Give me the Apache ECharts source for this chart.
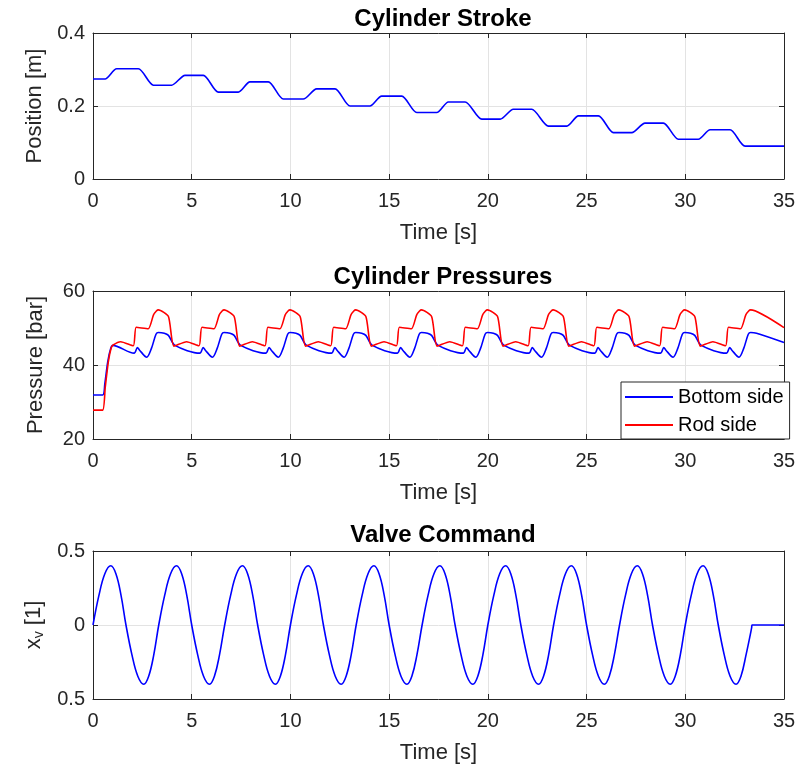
<!DOCTYPE html>
<html>
<head>
<meta charset="utf-8">
<script src="https://cdn.jsdelivr.net/npm/echarts@6/dist/echarts.min.js"></script>
<style>html,body{margin:0;padding:0;background:#fff}#c{width:799px;height:776px}</style>
</head>
<body>
<div id="c"></div>
<script>
// ---- Data ----
const titles = ['Cylinder Stroke', 'Cylinder Pressures', 'Valve Command'];
const xTicks = [0, 5, 10, 15, 20, 25, 30, 35];
const seriesNames = ['Bottom side', 'Rod side'];

const strokeT = [0, 0.61, 1.2, 2.3, 3.06, 3.98, 4.66, 5.59, 6.35, 7.36, 7.95, 8.88, 9.64, 10.65, 11.33, 12.26, 13.02, 14.03, 14.62, 15.64, 16.4, 17.41, 18.0, 18.85, 19.69, 20.62, 21.29, 22.22, 23.07, 24.0, 24.59, 25.6, 26.36, 27.29, 27.96, 28.89, 29.65, 30.66, 31.26, 32.27, 33.03, 35];
const strokeX = [0.274, 0.274, 0.302, 0.302, 0.257, 0.257, 0.284, 0.284, 0.238, 0.238, 0.266, 0.266, 0.219, 0.219, 0.247, 0.247, 0.2, 0.2, 0.227, 0.227, 0.182, 0.182, 0.211, 0.211, 0.164, 0.164, 0.191, 0.191, 0.145, 0.145, 0.173, 0.173, 0.127, 0.127, 0.153, 0.153, 0.109, 0.109, 0.135, 0.135, 0.09, 0.09];

const bottomT = [0, 0.49, 0.6, 0.75, 0.9, 1.0,
  2.08, 2.25, 2.36, 2.72, 2.96, 3.19, 3.31, 3.61, 3.82, 4.15,
  5.41, 5.58, 5.69, 6.05, 6.29, 6.52, 6.64, 6.94, 7.15, 7.48,
  8.75, 8.92, 9.03, 9.39, 9.63, 9.86, 9.98, 10.28, 10.49, 10.82,
  12.08, 12.25, 12.36, 12.72, 12.96, 13.19, 13.31, 13.61, 13.82, 14.15,
  15.41, 15.58, 15.69, 16.05, 16.29, 16.52, 16.64, 16.94, 17.15, 17.48,
  18.75, 18.92, 19.03, 19.39, 19.63, 19.86, 19.98, 20.28, 20.49, 20.82,
  22.08, 22.25, 22.36, 22.72, 22.96, 23.19, 23.31, 23.61, 23.82, 24.15,
  25.41, 25.58, 25.69, 26.05, 26.29, 26.52, 26.64, 26.94, 27.15, 27.48,
  28.74, 28.91, 29.02, 29.38, 29.62, 29.85, 29.97, 30.27, 30.48, 30.81,
  32.08, 32.25, 32.36, 32.72, 32.96, 33.19, 33.31, 33.61, 35];
const bottomP = [31.9, 31.9, 35, 41, 44.5, 45.3,
  43.2, 44.7, 44.0, 42.1, 44.5, 48.3, 48.8, 48.6, 48.0, 45.3,
  43.2, 44.7, 44.0, 42.1, 44.5, 48.3, 48.8, 48.6, 48.0, 45.3,
  43.2, 44.7, 44.0, 42.1, 44.5, 48.3, 48.8, 48.6, 48.0, 45.3,
  43.2, 44.7, 44.0, 42.1, 44.5, 48.3, 48.8, 48.6, 48.0, 45.3,
  43.2, 44.7, 44.0, 42.1, 44.5, 48.3, 48.8, 48.6, 48.0, 45.3,
  43.2, 44.7, 44.0, 42.1, 44.5, 48.3, 48.8, 48.6, 48.0, 45.3,
  43.2, 44.7, 44.0, 42.1, 44.5, 48.3, 48.8, 48.6, 48.0, 45.3,
  43.2, 44.7, 44.0, 42.1, 44.5, 48.3, 48.8, 48.6, 48.0, 45.3,
  43.2, 44.7, 44.0, 42.1, 44.5, 48.3, 48.8, 48.6, 48.0, 45.3,
  43.2, 44.7, 44.0, 42.1, 44.5, 48.3, 48.8, 48.6, 46.1];

const rodT = [0, 0.49, 0.62, 0.78, 0.92, 1.02, 1.4,
  2.04, 2.19, 2.80, 3.06, 3.21, 3.31, 3.82, 4.10, 4.74,
  5.37, 5.52, 6.13, 6.39, 6.54, 6.64, 7.15, 7.43, 8.07,
  8.71, 8.86, 9.47, 9.73, 9.88, 9.98, 10.49, 10.77, 11.41,
  12.04, 12.19, 12.80, 13.06, 13.21, 13.31, 13.82, 14.10, 14.74,
  15.37, 15.52, 16.13, 16.39, 16.54, 16.64, 17.15, 17.43, 18.07,
  18.71, 18.86, 19.47, 19.73, 19.88, 19.98, 20.49, 20.77, 21.41,
  22.04, 22.19, 22.80, 23.06, 23.21, 23.31, 23.82, 24.10, 24.74,
  25.37, 25.52, 26.13, 26.39, 26.54, 26.64, 27.15, 27.43, 28.07,
  28.70, 28.85, 29.46, 29.72, 29.87, 29.97, 30.48, 30.76, 31.40,
  32.04, 32.19, 32.80, 33.06, 33.21, 33.31, 35];
const rodP = [27.8, 27.8, 34, 41, 44.6, 45.4, 46.3,
  45.2, 50.2, 49.8, 53.5, 54.6, 54.9, 53.1, 45.1, 46.3,
  45.2, 50.2, 49.8, 53.5, 54.6, 54.9, 53.1, 45.1, 46.3,
  45.2, 50.2, 49.8, 53.5, 54.6, 54.9, 53.1, 45.1, 46.3,
  45.2, 50.2, 49.8, 53.5, 54.6, 54.9, 53.1, 45.1, 46.3,
  45.2, 50.2, 49.8, 53.5, 54.6, 54.9, 53.1, 45.1, 46.3,
  45.2, 50.2, 49.8, 53.5, 54.6, 54.9, 53.1, 45.1, 46.3,
  45.2, 50.2, 49.8, 53.5, 54.6, 54.9, 53.1, 45.1, 46.3,
  45.2, 50.2, 49.8, 53.5, 54.6, 54.9, 53.1, 45.1, 46.3,
  45.2, 50.2, 49.8, 53.5, 54.6, 54.9, 53.1, 45.1, 46.3,
  45.2, 50.2, 49.8, 53.5, 54.6, 54.9, 50.1];

const valveT = [0, 0.3, 0.6, 0.9, 1.16, 1.42, 1.67, 1.97, 2.27, 2.57, 2.82, 3.08,
  3.33, 3.63, 3.93, 4.23, 4.49, 4.75, 5.0, 5.3, 5.6, 5.9, 6.15, 6.41,
  6.67, 6.97, 7.27, 7.57, 7.83, 8.09, 8.34, 8.64, 8.94, 9.24, 9.49, 9.75,
  10.0, 10.3, 10.6, 10.9, 11.16, 11.42, 11.67, 11.97, 12.27, 12.57, 12.82, 13.08,
  13.33, 13.63, 13.93, 14.23, 14.49, 14.75, 15.0, 15.3, 15.6, 15.9, 16.15, 16.41,
  16.67, 16.97, 17.27, 17.57, 17.83, 18.09, 18.34, 18.64, 18.94, 19.24, 19.49, 19.75,
  20.0, 20.3, 20.6, 20.9, 21.16, 21.42, 21.67, 21.97, 22.27, 22.57, 22.82, 23.08,
  23.33, 23.63, 23.93, 24.23, 24.49, 24.75, 25.0, 25.3, 25.6, 25.9, 26.15, 26.41,
  26.67, 26.97, 27.27, 27.57, 27.83, 28.09, 28.34, 28.64, 28.94, 29.24, 29.49, 29.75,
  30.0, 30.3, 30.6, 30.9, 31.16, 31.42, 31.67, 31.97, 32.27, 32.57, 32.82, 33.08,
  33.36, 33.38, 35];
const valveX = [0, 0.2, 0.346, 0.4, 0.346, 0.2, 0, -0.2, -0.346, -0.4, -0.346, -0.2,
  0, 0.2, 0.346, 0.4, 0.346, 0.2, 0, -0.2, -0.346, -0.4, -0.346, -0.2,
  0, 0.2, 0.346, 0.4, 0.346, 0.2, 0, -0.2, -0.346, -0.4, -0.346, -0.2,
  0, 0.2, 0.346, 0.4, 0.346, 0.2, 0, -0.2, -0.346, -0.4, -0.346, -0.2,
  0, 0.2, 0.346, 0.4, 0.346, 0.2, 0, -0.2, -0.346, -0.4, -0.346, -0.2,
  0, 0.2, 0.346, 0.4, 0.346, 0.2, 0, -0.2, -0.346, -0.4, -0.346, -0.2,
  0, 0.2, 0.346, 0.4, 0.346, 0.2, 0, -0.2, -0.346, -0.4, -0.346, -0.2,
  0, 0.2, 0.346, 0.4, 0.346, 0.2, 0, -0.2, -0.346, -0.4, -0.346, -0.2,
  0, 0.2, 0.346, 0.4, 0.346, 0.2, 0, -0.2, -0.346, -0.4, -0.346, -0.2,
  0, 0.2, 0.346, 0.4, 0.346, 0.2, 0, -0.2, -0.346, -0.4, -0.346, -0.2,
  -0.02, 0, 0];

// ---- Build chart ----
const zip = (a, b) => a.map((v, i) => [v, b[i]]);
const FONT = 'Liberation Sans';
const TXT = '#262626';
const AX = '#262626';
const GRIDC = '#e3e3e3';

const grids = [
  { left: 93, right: 15, top: 33, height: 146 },
  { left: 93, right: 15, top: 291, height: 148 },
  { left: 93, right: 15, top: 551, height: 148 }
];
const yRanges = [
  { min: 0, max: 0.4, interval: 0.2, name: 'Position [m]' },
  { min: 20, max: 60, interval: 20, name: 'Pressure [bar]' },
  { min: -0.5, max: 0.5, interval: 0.5, name: '{x|x}{v|v}{x| [1]}' }
];

const axLine = { show: true, onZero: false, lineStyle: { color: AX, width: 1 } };
const axTick = { show: true, inside: true, length: 5, lineStyle: { color: AX } };
const xAxis = [], yAxis = [];
grids.forEach((g, i) => {
  xAxis.push({
    type: 'value', gridIndex: i, min: 0, max: 35, interval: 5, position: 'bottom',
    name: 'Time [s]', nameLocation: 'middle', nameGap: 43,
    nameTextStyle: { fontFamily: FONT, fontSize: 22, color: TXT },
    axisLine: axLine, axisTick: axTick,
    axisLabel: { fontFamily: FONT, fontSize: 20, color: TXT, margin: 12 },
    splitLine: { show: true, lineStyle: { color: GRIDC, width: 1 } }
  });
  xAxis.push({
    type: 'value', gridIndex: i, min: 0, max: 35, interval: 5, position: 'top',
    axisLine: axLine, axisTick: axTick,
    axisLabel: { show: false }, splitLine: { show: false }
  });
  const r = yRanges[i];
  yAxis.push({
    type: 'value', gridIndex: i, min: r.min, max: r.max, interval: r.interval, position: 'left',
    name: r.name, nameLocation: 'middle', nameGap: 46, nameRotate: 90,
    nameTextStyle: {
      fontFamily: FONT, fontSize: 22, color: TXT,
      rich: {
        x: { fontFamily: FONT, fontSize: 22, color: TXT },
        v: { fontFamily: FONT, fontSize: 14, color: TXT, padding: [10, 0, 0, 0] }
      }
    },
    axisLine: axLine, axisTick: axTick,
    axisLabel: {
      fontFamily: FONT, fontSize: 20, color: TXT, margin: 8,
      formatter: v => String(Math.abs(v))
    },
    splitLine: { show: true, lineStyle: { color: GRIDC, width: 1 } }
  });
  yAxis.push({
    type: 'value', gridIndex: i, min: r.min, max: r.max, interval: r.interval, position: 'right',
    axisLine: axLine, axisTick: axTick,
    axisLabel: { show: false }, splitLine: { show: false }
  });
});

const lineBase = { type: 'line', symbol: 'none', animation: false };
const series = [
  Object.assign({}, lineBase, {
    name: 'stroke', xAxisIndex: 0, yAxisIndex: 0, smooth: 0.25,
    data: zip(strokeT, strokeX), lineStyle: { color: '#0000ff', width: 1.6 }
  }),
  Object.assign({}, lineBase, {
    name: seriesNames[0], xAxisIndex: 2, yAxisIndex: 2, smooth: 0.3,
    data: zip(bottomT, bottomP), itemStyle: { color: '#0000ff' }, lineStyle: { color: '#0000ff', width: 1.6 }
  }),
  Object.assign({}, lineBase, {
    name: seriesNames[1], xAxisIndex: 2, yAxisIndex: 2, smooth: 0.2,
    data: zip(rodT, rodP), itemStyle: { color: '#ff0000' }, lineStyle: { color: '#ff0000', width: 1.6 }
  }),
  Object.assign({}, lineBase, {
    name: 'valve', xAxisIndex: 4, yAxisIndex: 4, smooth: 0.4,
    data: zip(valveT, valveX), lineStyle: { color: '#0000ff', width: 1.6 }
  })
];

const titleTops = [2, 260, 518];
const option = {
  backgroundColor: '#ffffff',
  animation: false,
  title: titles.map((t, i) => ({
    text: t, left: 438, top: titleTops[i], textAlign: 'center',
    textStyle: { fontFamily: FONT, fontSize: 24, fontWeight: 'bold', color: '#000' }
  })),
  legend: {
    data: seriesNames, orient: 'vertical', left: 621, top: 382,
    backgroundColor: '#fff', borderColor: AX, borderWidth: 1, borderRadius: 0,
    padding: [5, 6, 4, 4], itemGap: 8, itemWidth: 48, itemHeight: 2, icon: 'rect',
    textStyle: { fontFamily: FONT, fontSize: 20, color: '#000' }
  },
  grid: grids,
  xAxis: xAxis,
  yAxis: yAxis,
  series: series
};
const chart = echarts.init(document.getElementById('c'), null, { renderer: 'canvas' });
chart.setOption(option);
</script>
</body>
</html>
